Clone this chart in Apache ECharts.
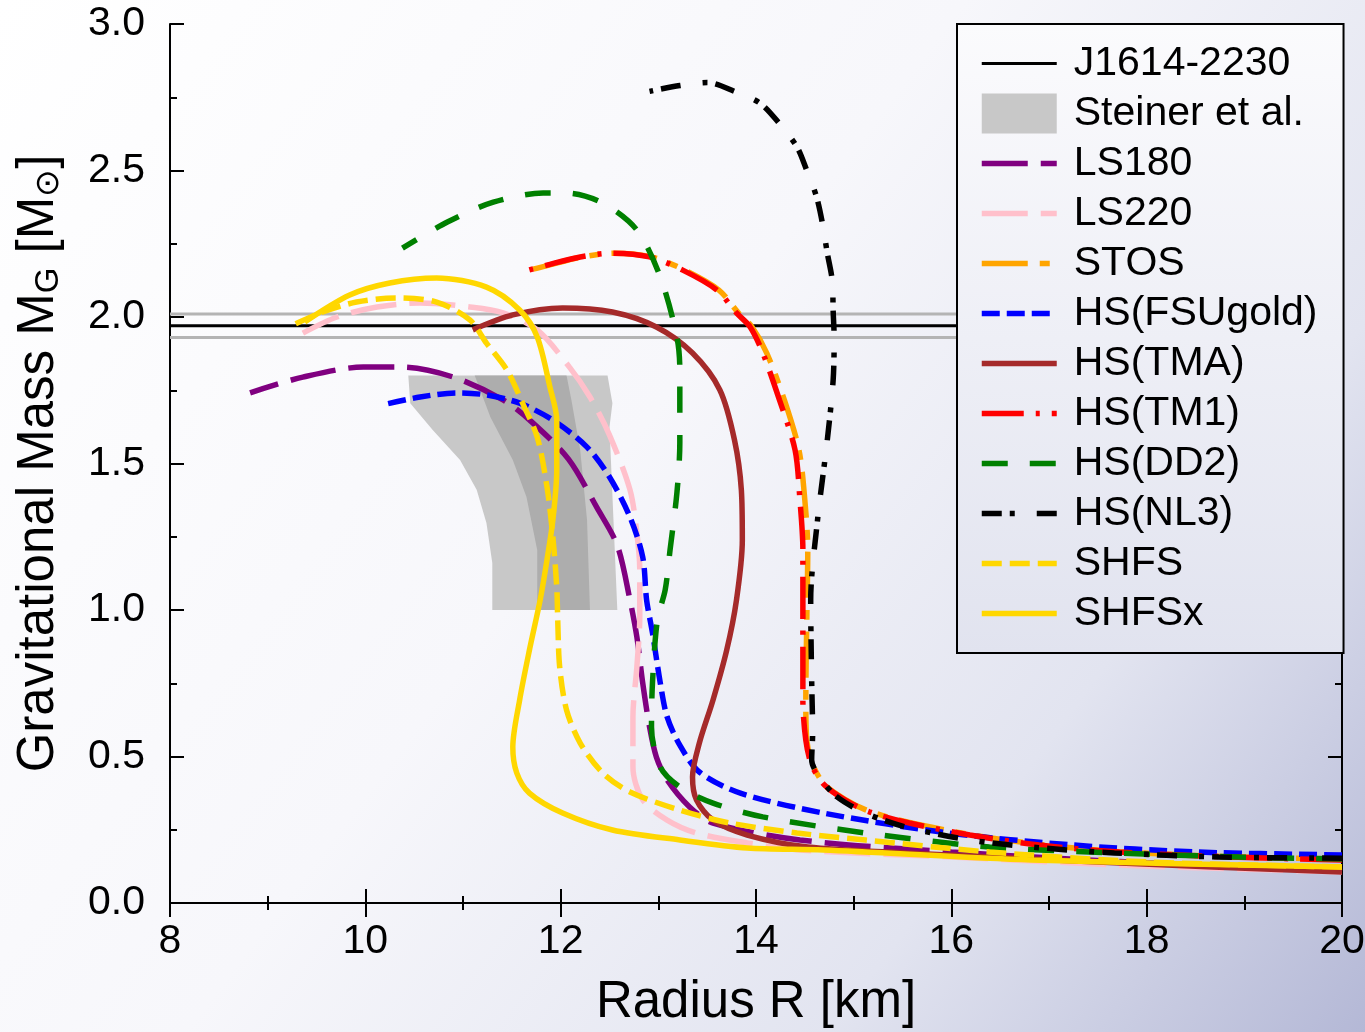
<!DOCTYPE html>
<html><head><meta charset="utf-8">
<script src="https://cdn.jsdelivr.net/npm/echarts@6/dist/echarts.min.js"></script>
<style>html,body{margin:0;padding:0;background:#fff;} #c{width:1365px;height:1032px;}</style>
</head><body><div id="c"></div>
<script>
const FONT = '"Liberation Sans", Arial, Helvetica, sans-serif';

// J1614-2230 mass band
const j1614R = [8, 20];
const j1614M = [1.97, 1.97];
const j1614Upper = [2.01, 2.01];
const j1614Lower = [1.93, 1.93];

// Steiner et al. regions (outer = 2 sigma, inner = 1 sigma)
const steinerOuterR = [11.30, 11.30, 11.24, 11.14, 10.97, 10.69, 10.46, 10.44, 12.48, 12.53, 12.50, 12.58];
const steinerOuterM = [1.00, 1.160, 1.297, 1.410, 1.512, 1.614, 1.706, 1.80, 1.80, 1.706, 1.625, 1.00];
const steinerInnerR = [11.76, 11.76, 11.65, 11.51, 11.28, 11.12, 12.06, 12.11, 12.20, 12.27, 12.30];
const steinerInnerM = [1.00, 1.205, 1.386, 1.512, 1.659, 1.80, 1.80, 1.717, 1.546, 1.307, 1.00];

// Mass-radius curves
const ls180R = [20, 18.0, 16.0, 14.45, 13.56, 13.32, 13.09, 12.98, 12.91, 12.84, 12.78, 12.71, 12.58, 12.37, 12.08, 11.70, 11.41, 10.90, 10.38, 9.98, 9.36, 8.82];
const ls180M = [0.113, 0.137, 0.174, 0.215, 0.273, 0.328, 0.420, 0.498, 0.601, 0.751, 0.908, 1.034, 1.22, 1.35, 1.515, 1.643, 1.717, 1.795, 1.829, 1.829, 1.795, 1.741];

const ls220R = [20, 18.0, 16.0, 14.45, 13.91, 13.39, 13.09, 12.84, 12.74, 12.74, 12.78, 12.81, 12.81, 12.78, 12.71, 12.50, 12.30, 12.09, 11.76, 11.41, 11.07, 10.56, 10.12, 9.71, 9.36];
const ls220M = [0.106, 0.126, 0.157, 0.181, 0.205, 0.239, 0.283, 0.352, 0.464, 0.635, 0.805, 0.976, 1.137, 1.263, 1.410, 1.597, 1.727, 1.829, 1.956, 2.014, 2.034, 2.048, 2.034, 2.000, 1.945];

const stosR = [20, 18.85, 17.72, 16.90, 16.19, 15.57, 15.16, 14.91, 14.70, 14.58, 14.52, 14.51, 14.52, 14.53, 14.50, 14.44, 14.29, 14.11, 13.96, 13.82, 13.62, 13.27, 12.93, 12.55, 12.22, 11.88, 11.61];
const stosM = [0.150, 0.158, 0.175, 0.200, 0.234, 0.275, 0.313, 0.354, 0.405, 0.473, 0.556, 0.693, 0.966, 1.205, 1.375, 1.546, 1.717, 1.877, 1.966, 2.014, 2.092, 2.160, 2.205, 2.218, 2.205, 2.177, 2.154];

const fsuR = [20, 18.52, 17.24, 15.97, 14.69, 13.84, 13.42, 13.22, 13.09, 13.02, 12.94, 12.88, 12.84, 12.71, 12.50, 12.27, 11.92, 11.58, 11.24, 10.94, 10.56, 10.18];
const fsuM = [0.164, 0.174, 0.198, 0.239, 0.307, 0.375, 0.447, 0.539, 0.635, 0.751, 0.922, 1.034, 1.181, 1.317, 1.454, 1.556, 1.648, 1.706, 1.734, 1.741, 1.727, 1.700];

const tmaR = [20, 17.67, 15.54, 14.53, 13.91, 13.56, 13.39, 13.35, 13.42, 13.56, 13.70, 13.80, 13.86, 13.85, 13.78, 13.63, 13.35, 12.98, 12.53, 12.02, 11.51, 11.10];
const tmaM = [0.106, 0.137, 0.171, 0.191, 0.232, 0.283, 0.352, 0.430, 0.546, 0.693, 0.863, 1.034, 1.239, 1.410, 1.580, 1.751, 1.877, 1.966, 2.017, 2.031, 2.007, 1.956];

const tm1R = [20, 18.85, 17.72, 16.90, 16.19, 15.57, 15.16, 14.91, 14.70, 14.57, 14.51, 14.48, 14.48, 14.48, 14.45, 14.40, 14.24, 14.07, 13.94, 13.80, 13.60, 13.25, 12.91, 12.53, 12.20, 11.86, 11.61];
const tm1M = [0.147, 0.157, 0.174, 0.198, 0.232, 0.273, 0.311, 0.352, 0.403, 0.471, 0.556, 0.693, 0.966, 1.205, 1.375, 1.546, 1.717, 1.877, 1.966, 2.014, 2.092, 2.160, 2.205, 2.218, 2.205, 2.177, 2.154];

const dd2R = [20, 18.95, 17.67, 16.39, 15.12, 14.07, 13.56, 13.22, 13.02, 12.93, 12.94, 12.99, 13.07, 13.12, 13.19, 13.22, 13.22, 13.19, 13.02, 12.78, 12.43, 12.06, 11.82, 11.31, 10.84, 10.38];
const dd2M = [0.150, 0.157, 0.171, 0.191, 0.239, 0.294, 0.341, 0.396, 0.464, 0.601, 0.751, 0.966, 1.068, 1.205, 1.399, 1.570, 1.819, 1.932, 2.137, 2.297, 2.389, 2.423, 2.423, 2.392, 2.324, 2.235];

const nl3R = [20, 18.74, 17.67, 16.82, 16.19, 15.54, 15.12, 14.83, 14.65, 14.57, 14.58, 14.57, 14.56, 14.63, 14.73, 14.79, 14.80, 14.79, 14.78, 14.73, 14.68, 14.62, 14.52, 14.42, 14.24, 14.04, 13.78, 13.50, 13.22, 12.91];
const nl3M = [0.153, 0.157, 0.171, 0.191, 0.215, 0.259, 0.307, 0.362, 0.430, 0.488, 0.58, 0.761, 1.034, 1.307, 1.58, 1.785, 1.93, 2.02, 2.126, 2.218, 2.32, 2.41, 2.50, 2.58, 2.66, 2.73, 2.77, 2.80, 2.79, 2.77];

const shfsR = [20, 18.03, 16.39, 15.12, 14.42, 13.73, 13.22, 12.71, 12.43, 12.20, 12.06, 11.99, 11.97, 11.96, 11.92, 11.86, 11.76, 11.61, 11.45, 11.24, 11.07, 10.73, 10.32, 9.91, 9.54, 9.26];
const shfsM = [0.123, 0.140, 0.174, 0.215, 0.239, 0.273, 0.317, 0.379, 0.444, 0.546, 0.659, 0.805, 0.966, 1.078, 1.249, 1.420, 1.590, 1.706, 1.819, 1.911, 1.990, 2.051, 2.065, 2.051, 2.014, 1.973];

const shfsxR = [20, 16.82, 14.69, 13.91, 13.22, 12.53, 12.02, 11.68, 11.55, 11.51, 11.58, 11.68, 11.79, 11.86, 11.92, 11.96, 11.96, 11.89, 11.76, 11.58, 11.24, 10.73, 10.25, 9.84, 9.38];
const shfsxM = [0.123, 0.147, 0.181, 0.188, 0.215, 0.249, 0.307, 0.375, 0.444, 0.532, 0.693, 0.863, 1.034, 1.171, 1.307, 1.478, 1.648, 1.761, 1.932, 2.024, 2.102, 2.133, 2.116, 2.075, 1.983];

// axis ticks
const xTickValues = [8, 10, 12, 14, 16, 18, 20];
const yTickValues = [0.0, 0.5, 1.0, 1.5, 2.0, 2.5, 3.0];

const zip = (a, b) => a.map((v, i) => [v, b[i]]);

const curveDefs = [
  {name: 'LS180', R: ls180R, M: ls180M, color: '#800080', dash: [46, 13]},
  {name: 'LS220', R: ls220R, M: ls220M, color: '#ffc0cb', dash: [46, 13]},
  {name: 'STOS', R: stosR, M: stosM, color: '#ffa500', dash: [46, 12, 10, 12]},
  {name: 'HS(FSUgold)', R: fsuR, M: fsuM, color: '#0000ff', dash: [18, 7]},
  {name: 'HS(TMA)', R: tmaR, M: tmaM, color: '#a52a2a', dash: 'solid'},
  {name: 'HS(TM1)', R: tm1R, M: tm1M, color: '#ff0000', dash: [42, 12, 4, 12]},
  {name: 'HS(DD2)', R: dd2R, M: dd2M, color: '#008000', dash: [26, 22]},
  {name: 'HS(NL3)', R: nl3R, M: nl3M, color: '#000000', dash: [20, 8, 5, 22]},
  {name: 'SHFS', R: shfsR, M: shfsM, color: '#ffd700', dash: [20, 8]},
  {name: 'SHFSx', R: shfsxR, M: shfsxM, color: '#ffd700', dash: 'solid'}
];

const steinerLayers = [zip(steinerOuterR, steinerOuterM), zip(steinerInnerR, steinerInnerM)];
const steinerColors = ['#c8c8c8', '#adadad'];

const series = [];
series.push({
  type: 'line', name: 'J1614-2230', data: zip(j1614R, j1614M), symbol: 'none',
  lineStyle: {color: '#000', width: 3}, itemStyle: {color: '#000'}, z: 3, silent: true
});
series.push({
  type: 'line', name: 'j1614-upper', data: zip(j1614R, j1614Upper), symbol: 'none',
  lineStyle: {color: '#b4b4b4', width: 3}, z: 3, silent: true
});
series.push({
  type: 'line', name: 'j1614-lower', data: zip(j1614R, j1614Lower), symbol: 'none',
  lineStyle: {color: '#b4b4b4', width: 3}, z: 3, silent: true
});
series.push({
  type: 'custom', name: 'Steiner et al.',
  data: [[steinerOuterR[0], steinerOuterM[0], 0], [steinerInnerR[0], steinerInnerM[0], 1]],
  encode: {x: 0, y: 1},
  itemStyle: {color: '#c8c8c8'},
  z: 2, silent: true,
  renderItem: function (params, api) {
    const layer = api.value(2);
    return {
      type: 'polygon',
      shape: {points: steinerLayers[layer].map(p => api.coord(p))},
      style: {fill: steinerColors[layer]}
    };
  }
});
curveDefs.forEach((c, i) => {
  series.push({
    type: 'line', name: c.name, data: zip(c.R, c.M), symbol: 'none', smooth: 0.3,
    lineStyle: {color: c.color, width: 5.5, type: c.dash, cap: 'butt'},
    itemStyle: {color: c.color}, z: 4 + i, silent: true
  });
});

const chart = echarts.init(document.getElementById('c'), null, {renderer: 'canvas'});

const tickCommon = {inside: true, length: 14, lineStyle: {color: '#000', width: 2}};
const minorCommon = {show: true, splitNumber: 2, length: 7, lineStyle: {color: '#000', width: 2}};

chart.setOption({
  animation: false,
  backgroundColor: {
    type: 'linear', x: 0, y: 0, x2: 1, y2: 1,
    colorStops: [
      {offset: 0, color: '#ffffff'},
      {offset: 0.45, color: '#f7f7fb'},
      {offset: 0.75, color: '#e2e4f0'},
      {offset: 1, color: '#b4b8d6'}
    ]
  },
  textStyle: {fontFamily: FONT},
  grid: {left: 170, right: 23, top: 24, bottom: 129, containLabel: false, outerBoundsMode: 'none'},
  xAxis: [{
    type: 'value', min: xTickValues[0], max: xTickValues[xTickValues.length - 1], interval: 2,
    name: 'Radius R [km]', nameLocation: 'middle', nameGap: 74,
    nameTextStyle: {fontSize: 51, color: '#000', fontFamily: FONT},
    axisLine: {show: true, lineStyle: {color: '#000', width: 2}},
    axisTick: tickCommon, minorTick: minorCommon,
    splitLine: {show: false},
    axisLabel: {fontSize: 41, color: '#000', margin: 18, fontFamily: FONT}
  }, {
    type: 'value', position: 'top', min: 8, max: 20, interval: 2,
    axisLine: {show: true, lineStyle: {color: '#000', width: 2}},
    axisTick: tickCommon, minorTick: minorCommon,
    splitLine: {show: false}, axisLabel: {show: false}
  }],
  yAxis: [{
    type: 'value', min: yTickValues[0], max: yTickValues[yTickValues.length - 1], interval: 0.5,
    name: 'Gravitational Mass M{s|G} [M{s|\u2299}]', nameLocation: 'middle', nameGap: 105, nameRotate: 90,
    nameTextStyle: {
      fontSize: 51, color: '#000', fontFamily: FONT,
      rich: {s: {fontSize: 33, color: '#000', fontFamily: FONT, padding: [20, 0, 0, 0]}}
    },
    axisLine: {show: true, lineStyle: {color: '#000', width: 2}},
    axisTick: tickCommon, minorTick: minorCommon,
    splitLine: {show: false},
    axisLabel: {fontSize: 41, color: '#000', margin: 25, fontFamily: FONT,
      formatter: v => v.toFixed(1)}
  }, {
    type: 'value', position: 'right', min: 0, max: 3, interval: 0.5,
    axisLine: {show: true, lineStyle: {color: '#000', width: 2}},
    axisTick: tickCommon, minorTick: minorCommon,
    splitLine: {show: false}, axisLabel: {show: false}
  }],
  legend: {
    left: 957, top: 24, orient: 'vertical',
    itemWidth: 75, itemHeight: 40, itemGap: 9,
    padding: [19, 26, 19, 22],
    borderColor: '#000', borderWidth: 2,
    backgroundColor: {
      type: 'linear', x: 0, y: 0, x2: 0, y2: 1,
      colorStops: [{offset: 0, color: '#fbfbfd'}, {offset: 1, color: '#e1e3ef'}]
    },
    selectedMode: false,
    itemStyle: {opacity: 0},
    lineStyle: {width: 5.5},
    textStyle: {fontSize: 41, color: '#000', fontFamily: FONT, padding: [0, 0, 0, 12]},
    data: [
      {name: 'J1614-2230', lineStyle: {width: 3}},
      {name: 'Steiner et al.', icon: 'rect', itemStyle: {opacity: 1, color: '#c8c8c8'}},
      ...curveDefs.map(c => ({name: c.name}))
    ]
  },
  series: series
});
</script>
</body></html>
